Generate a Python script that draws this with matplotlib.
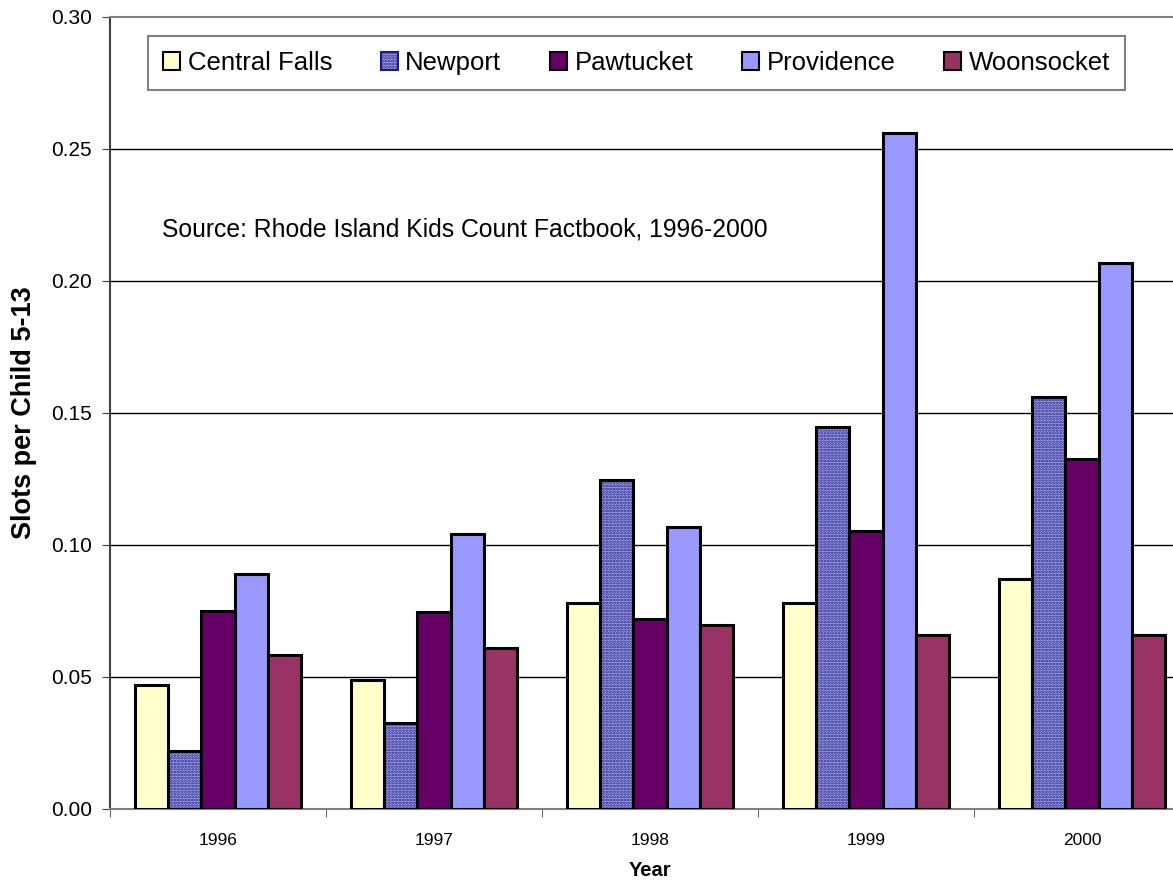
import matplotlib
matplotlib.use("Agg")
import matplotlib.pyplot as plt
import numpy as np
from matplotlib.patches import Patch

years = ["1996", "1997", "1998", "1999", "2000"]
cities = ["Central Falls", "Newport", "Pawtucket", "Providence", "Woonsocket"]
central_falls = [0.0469, 0.0487, 0.0779, 0.0779, 0.0872]
newport = [0.0220, 0.0325, 0.1245, 0.1447, 0.1562]
pawtucket = [0.0750, 0.0747, 0.0720, 0.1053, 0.1326]
providence = [0.0890, 0.1040, 0.1068, 0.2560, 0.2067]
woonsocket = [0.0584, 0.0611, 0.0697, 0.0660, 0.0659]
y_ticks = [0.00, 0.05, 0.10, 0.15, 0.20, 0.25, 0.30]

series = [central_falls, newport, pawtucket, providence, woonsocket]
colors = ["#ffffcc", None, "#660066", "#9999ff", "#993366"]
NEWPORT_BG = "#b0b0e6"
NEWPORT_DOT = "#1a1a90"

plt.rcParams["font.family"] = ["Liberation Sans", "DejaVu Sans"]
plt.rcParams["hatch.linewidth"] = 1.3

W, H = 1173, 894
fig = plt.figure(figsize=(W / 100, H / 100), dpi=100)
ax = fig.add_axes([110 / W, 85 / H, 1080 / W, 792 / H])

x = np.arange(len(years))
width = 0.154
for i, (vals, color) in enumerate(zip(series, colors)):
    pos = x + (i - 2) * width
    if color is None:
        # checkered fill: hatch layer, then a plain outline on top
        ax.bar(pos, vals, width, color=NEWPORT_BG, hatch="......", edgecolor=NEWPORT_DOT,
               linewidth=0, zorder=2)
        ax.bar(pos, vals, width, fill=False, edgecolor="black", linewidth=2.2, zorder=3)
    else:
        ax.bar(pos, vals, width, color=color, edgecolor="black", linewidth=2.2, zorder=3)

ax.set_xlim(-0.5, 4.5)
ax.set_ylim(0, 0.30)
ax.set_yticks(y_ticks)
ax.set_yticklabels([f"{t:.2f}" for t in y_ticks], fontsize=15)
ax.set_xticks(x)
ax.set_xticklabels(years, fontsize=12.5)
ax.set_xticks(np.arange(-0.5, 4.6, 1.0), minor=True)
ax.tick_params(axis="x", which="major", length=0, pad=17)
ax.tick_params(axis="x", which="minor", length=6, direction="out", color="#404040")
ax.tick_params(axis="y", length=6, direction="out", color="#404040", pad=7)

for t in y_ticks[1:-1]:
    ax.axhline(t, color="black", linewidth=1.0, zorder=1)

for side in ["top", "bottom"]:
    ax.spines[side].set_color("#808080")
    ax.spines[side].set_linewidth(1.5)
ax.spines["left"].set_color("#404040")
ax.spines["left"].set_linewidth(1.5)
ax.spines["right"].set_visible(False)

ax.set_ylabel("Slots per Child 5-13", fontsize=19.5, fontweight="bold", labelpad=10)
ax.set_xlabel("Year", fontsize=14.5, fontweight="bold", labelpad=10)

fig.text(162 / W, 1 - 229 / H, "Source: Rhode Island Kids Count Factbook, 1996-2000",
         fontsize=17.8, va="center", ha="left")

handles = []
for name, color in zip(cities, colors):
    if color is None:
        handles.append(Patch(facecolor=NEWPORT_BG, hatch="......", edgecolor=NEWPORT_DOT,
                             linewidth=1.5, label=name))
    else:
        handles.append(Patch(facecolor=color, edgecolor="black", linewidth=1.5, label=name))
leg = fig.legend(handles=handles, loc="center", bbox_to_anchor=(636.5 / W, 1 - 63 / H),
                 ncol=5, fontsize=18.5, frameon=True, fancybox=False, handlelength=0.65,
                 handleheight=0.65, handletextpad=0.3, columnspacing=1.9,
                 borderpad=0.6, edgecolor="#606060")
leg.get_frame().set_linewidth(1.5)

fig.savefig("out.png", dpi=100)
